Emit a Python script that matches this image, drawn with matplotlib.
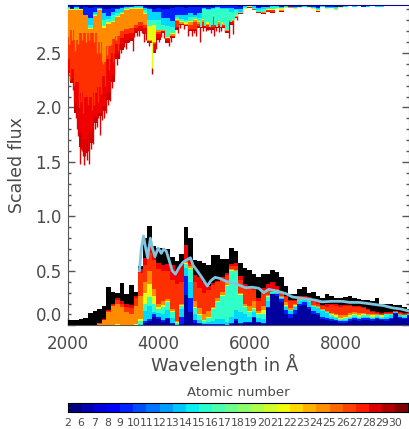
import numpy as np
import matplotlib
matplotlib.use('Agg')
import matplotlib.pyplot as plt
from matplotlib.ticker import MultipleLocator

plt.rcParams['font.family'] = ['DejaVu Sans']

# wavelength grid, 2000 - 9500 in steps of 100
wave = list(range(2000, 9600, 100))

# %% lower spectrum, cumulative tops of the element groups
low_total = [.05, .05, .05, .06, .07, .11, .13, .15, .18, .35,
             .31, .30, .39, .29, .37, .31, .54, .80, .91, .73,
             .71, .71, .70, .63, .59, .65, .90, .80, .60, .59,
             .575, .55, .645, .645, .605, .605, .71, .68, .575, .53,
             .51, .47, .44, .47, .47, .505, .485, .44, .36, .285,
             .29, .33, .355, .30, .31, .27, .255, .285, .27, .255,
             .25, .26, .27, .255, .24, .235, .235, .22, .25, .20,
             .195, .20, .19, .19, .165, .15]
low_navy = [0, 0, 0, 0, 0, 0, 0, 0, 0, 0,
            0, 0, 0, 0, 0, 0, 0, .02, .04, .08,
            .06, .03, .06, .01, 0, .01, .28, .12, .02, .01,
            0, 0, 0, 0, 0, 0, .01, .04, .01, .02,
            .02, .07, .02, .01, .16, .285, .27, .21, .10, .07,
            .10, .18, .19, .15, .10, .09, .055, .05, .04, .035,
            .025, .025, .04, .05, .04, .05, .05, .04, .055, .05,
            .04, .06, .10, .07, .055, .085]
low_blue = [0, 0, 0, 0, 0, 0, 0, 0, 0, 0,
            0, 0, 0, 0, 0, 0, 0, .04, .06, .10,
            .08, .05, .07, .02, 0, .08, .45, .25, .05, .02,
            .01, .01, .01, .01, .01, 0, .02, .06, .02, .03,
            .03, .08, .03, .02, .17, .29, .29, .24, .14, .10,
            .14, .20, .21, .17, .13, .11, .08, .07, .055, .05,
            .04, .04, .06, .07, .06, .07, .07, .06, .07, .06,
            .06, .07, .11, .08, .065, .09]
low_cyan = [0, 0, 0, 0, 0, 0, 0, 0, 0, 0,
            0, 0, 0, 0, 0, 0, .01, .13, .18, .12,
            .11, .10, .14, .07, .01, .15, .53, .40, .10, .05,
            .02, .03, .04, .06, .06, .03, .08, .14, .12, .10,
            .08, .12, .07, .06, .22, .30, .30, .25, .17, .13,
            .17, .22, .23, .21, .17, .16, .13, .11, .08, .07,
            .05, .05, .07, .08, .07, .08, .08, .07, .08, .07,
            .08, .09, .12, .09, .08, .10]
low_aqua = [0, 0, 0, 0, 0, 0, 0, 0, 0, 0,
            0, 0, 0, 0, 0, 0, .04, .20, .26, .20,
            .15, .17, .21, .12, .02, .18, .56, .52, .16, .09,
            .04, .07, .15, .21, .27, .36, .50, .50, .28, .17,
            .12, .15, .10, .10, .26, .31, .30, .26, .18, .14,
            .18, .23, .23, .22, .18, .17, .14, .12, .09, .08,
            .06, .07, .08, .09, .08, .09, .09, .08, .09, .08,
            .10, .10, .12, .09, .09, .10]
low_yellow = [0, 0, 0, 0, 0, 0, 0, 0, 0, 0,
              0, .01, 0, 0, 0, .01, .06, .30, .38, .27,
              .17, .19, .22, .13, .03, .19, .57, .53, .17, .10,
              .05, .08, .16, .22, .28, .37, .51, .50, .29, .18,
              .13, .16, .11, .14, .27, .31, .30, .26, .19, .14,
              .19, .23, .24, .22, .18, .17, .14, .12, .10, .09,
              .07, .08, .09, .10, .09, .10, .09, .09, .09, .09,
              .10, .10, .12, .09, .09, .10]
low_orange = [0, 0, 0, 0, 0, 0, 0, .015, .05, .12,
              .18, .20, .165, .125, .10, .18, .27, .40, .50, .33,
              .20, .22, .24, .15, .04, .20, .58, .54, .22, .16,
              .10, .13, .17, .25, .31, .40, .52, .51, .30, .20,
              .18, .22, .13, .18, .28, .31, .31, .27, .21, .16,
              .20, .24, .24, .23, .19, .18, .15, .13, .11, .10,
              .09, .09, .11, .12, .11, .11, .10, .10, .10, .09,
              .10, .10, .12, .10, .09, .10]
low_orangered = [0, 0, 0, 0, 0, 0, 0, .02, .05, .13,
                 .19, .23, .20, .17, .16, .25, .48, .55, .66, .60,
                 .52, .50, .50, .42, .38, .40, .60, .56, .40, .34,
                 .30, .32, .37, .40, .42, .46, .54, .54, .42, .36,
                 .34, .32, .22, .30, .32, .33, .33, .30, .26, .22,
                 .22, .26, .25, .25, .21, .20, .18, .17, .19, .18,
                 .17, .18, .18, .17, .17, .16, .14, .12, .11, .10,
                 .11, .11, .13, .11, .10, .11]
low_red = [0, 0, 0, 0, 0, 0, 0, .02, .06, .14,
           .20, .25, .22, .20, .19, .27, .52, .62, .72, .66,
           .57, .55, .56, .55, .50, .56, .74, .60, .46, .44,
           .40, .36, .39, .41, .44, .48, .56, .57, .45, .38,
           .36, .34, .25, .34, .38, .40, .36, .31, .27, .23,
           .23, .27, .27, .26, .22, .21, .19, .20, .20, .20,
           .19, .19, .19, .18, .18, .17, .15, .13, .12, .11,
           .12, .12, .13, .12, .11, .11]

# observed spectrum
obs_wave = [3580, 3620, 3670, 3720, 3760, 3820, 3870, 3920, 3990, 4060,
            4110, 4170, 4230, 4300, 4370, 4450, 4540, 4620, 4700, 4760,
            4850, 4950, 5070, 5150, 5240, 5350, 5450, 5580, 5700, 5910,
            6050, 6200, 6310, 6420, 6640, 6800, 6940, 7120, 7300, 7450,
            7590, 7800, 8030, 8200, 8400, 8600, 8770, 8950, 9130, 9320, 9500]
obs_flux = [.50, .70, .82, .70, .62, .80, .70, .63, .71, .66,
            .70, .68, .60, .50, .47, .53, .58, .60, .62, .55,
            .50, .44, .36, .41, .44, .43, .41, .39, .38, .345,
            .35, .34, .30, .33, .31, .29, .26, .25, .24, .23,
            .215, .22, .22, .21, .21, .20, .19, .18, .16, .15, .13]

# %% upper spectrum, lower edges of the same groups hanging from the top
up_navy = [2.93, 2.91, 2.93, 2.91, 2.92, 2.91, 2.92, 2.92, 2.90, 2.90,
           2.91, 2.91, 2.92, 2.935, 2.93, 2.935, 2.935, 2.92, 2.91, 2.90,
           2.91, 2.90, 2.90, 2.91, 2.92, 2.92, 2.91, 2.92, 2.92, 2.92,
           2.92, 2.92, 2.92, 2.93, 2.93, 2.93, 2.93, 2.93, 2.92, 2.935,
           2.935, 2.93, 2.92, 2.92, 2.92, 2.93, 2.93, 2.92, 2.93, 2.935,
           2.935, 2.93, 2.935, 2.93, 2.93, 2.92, 2.935, 2.93, 2.93, 2.925,
           2.93, 2.935, 2.935, 2.935, 2.935, 2.93, 2.935, 2.935, 2.935, 2.93,
           2.935, 2.935, 2.935, 2.935, 2.935, 2.935]
up_blue = [2.92, 2.90, 2.92, 2.90, 2.85, 2.82, 2.88, 2.91, 2.87, 2.84,
           2.88, 2.90, 2.91, 2.92, 2.92, 2.93, 2.93, 2.91, 2.90, 2.88,
           2.88, 2.82, 2.82, 2.79, 2.85, 2.85, 2.85, 2.87, 2.85, 2.87,
           2.91, 2.90, 2.91, 2.92, 2.91, 2.91, 2.91, 2.90, 2.90, 2.93,
           2.935, 2.93, 2.91, 2.92, 2.92, 2.93, 2.93, 2.92, 2.93, 2.925,
           2.925, 2.925, 2.93, 2.925, 2.92, 2.91, 2.93, 2.92, 2.92, 2.92,
           2.925, 2.93, 2.935, 2.93, 2.935, 2.925, 2.93, 2.935, 2.93, 2.93,
           2.935, 2.935, 2.935, 2.935, 2.935, 2.935]
up_cyan = [2.91, 2.90, 2.91, 2.90, 2.87, 2.76, 2.86, 2.90, 2.80, 2.81,
           2.85, 2.87, 2.88, 2.91, 2.92, 2.92, 2.92, 2.89, 2.80, 2.80,
           2.80, 2.76, 2.75, 2.74, 2.83, 2.81, 2.80, 2.83, 2.83, 2.82,
           2.90, 2.89, 2.90, 2.91, 2.90, 2.90, 2.88, 2.89, 2.88, 2.92,
           2.93, 2.91, 2.89, 2.90, 2.91, 2.92, 2.92, 2.91, 2.925, 2.92,
           2.915, 2.92, 2.925, 2.92, 2.91, 2.90, 2.925, 2.91, 2.915, 2.91,
           2.92, 2.925, 2.93, 2.925, 2.93, 2.92, 2.925, 2.93, 2.925, 2.925,
           2.93, 2.93, 2.93, 2.93, 2.93, 2.93]
up_aqua = [2.90, 2.90, 2.90, 2.90, 2.87, 2.73, 2.85, 2.90, 2.745, 2.78,
           2.79, 2.84, 2.87, 2.90, 2.91, 2.91, 2.91, 2.87, 2.745, 2.76,
           2.715, 2.715, 2.65, 2.68, 2.81, 2.79, 2.78, 2.79, 2.81, 2.79,
           2.81, 2.78, 2.85, 2.79, 2.78, 2.715, 2.81, 2.85, 2.87, 2.91,
           2.93, 2.90, 2.88, 2.88, 2.90, 2.90, 2.91, 2.91, 2.92, 2.92,
           2.91, 2.92, 2.925, 2.92, 2.91, 2.89, 2.925, 2.91, 2.91, 2.90,
           2.92, 2.925, 2.93, 2.925, 2.93, 2.92, 2.925, 2.93, 2.925, 2.925,
           2.93, 2.93, 2.93, 2.93, 2.93, 2.93]
up_yellow = [2.89, 2.89, 2.89, 2.89, 2.86, 2.72, 2.84, 2.89, 2.73, 2.77,
             2.78, 2.83, 2.86, 2.89, 2.90, 2.90, 2.90, 2.86, 2.62, 2.60,
             2.71, 2.71, 2.64, 2.67, 2.80, 2.78, 2.77, 2.78, 2.80, 2.78,
             2.80, 2.77, 2.84, 2.78, 2.77, 2.71, 2.80, 2.84, 2.865, 2.905,
             2.925, 2.90, 2.88, 2.875, 2.895, 2.89, 2.905, 2.89, 2.915, 2.92,
             2.905, 2.915, 2.925, 2.915, 2.905, 2.885, 2.925, 2.905, 2.91, 2.895,
             2.915, 2.925, 2.93, 2.925, 2.93, 2.92, 2.925, 2.93, 2.925, 2.925,
             2.93, 2.93, 2.93, 2.93, 2.93, 2.93]
up_orange = [2.65, 2.71, 2.62, 2.68, 2.68, 2.68, 2.68, 2.60, 2.42, 2.56,
             2.63, 2.66, 2.70, 2.72, 2.73, 2.76, 2.78, 2.76, 2.61, 2.59,
             2.69, 2.70, 2.64, 2.66, 2.79, 2.77, 2.76, 2.76, 2.78, 2.77,
             2.78, 2.76, 2.83, 2.77, 2.76, 2.70, 2.79, 2.83, 2.865, 2.905,
             2.92, 2.90, 2.88, 2.87, 2.89, 2.89, 2.90, 2.885, 2.915, 2.915,
             2.905, 2.915, 2.925, 2.915, 2.905, 2.885, 2.925, 2.905, 2.91, 2.895,
             2.915, 2.925, 2.93, 2.925, 2.93, 2.92, 2.925, 2.93, 2.925, 2.925,
             2.93, 2.93, 2.93, 2.93, 2.93, 2.93]
up_orangered = [2.44, 2.35, 2.23, 2.13, 2.10, 2.10, 2.13, 2.19, 2.29, 2.44,
                2.50, 2.58, 2.64, 2.67, 2.68, 2.73, 2.745, 2.73, 2.61, 2.58,
                2.67, 2.70, 2.63, 2.66, 2.74, 2.78, 2.765, 2.72, 2.72, 2.75,
                2.75, 2.735, 2.735, 2.75, 2.75, 2.70, 2.78, 2.83, 2.865, 2.90,
                2.92, 2.89, 2.875, 2.87, 2.885, 2.88, 2.90, 2.885, 2.91, 2.915,
                2.905, 2.915, 2.925, 2.915, 2.905, 2.885, 2.925, 2.905, 2.915, 2.895,
                2.915, 2.925, 2.93, 2.925, 2.93, 2.92, 2.925, 2.93, 2.925, 2.925,
                2.93, 2.93, 2.93, 2.93, 2.93, 2.93]
up_red = [2.33, 2.26, 2.04, 1.77, 1.71, 1.77, 1.92, 1.95, 2.01, 2.13,
          2.29, 2.49, 2.58, 2.62, 2.64, 2.70, 2.715, 2.68, 2.60, 2.53,
          2.64, 2.69, 2.61, 2.65, 2.73, 2.77, 2.755, 2.71, 2.71, 2.74,
          2.74, 2.725, 2.725, 2.74, 2.74, 2.69, 2.77, 2.825, 2.86, 2.90,
          2.91, 2.89, 2.87, 2.865, 2.88, 2.875, 2.90, 2.885, 2.91, 2.91,
          2.90, 2.91, 2.92, 2.91, 2.90, 2.88, 2.92, 2.90, 2.91, 2.89,
          2.91, 2.92, 2.93, 2.92, 2.93, 2.92, 2.92, 2.93, 2.92, 2.92,
          2.93, 2.93, 2.93, 2.93, 2.93, 2.93]
up_darkred = [2.32, 2.22, 1.95, 1.64, 1.58, 1.67, 1.86, 1.92, 1.97, 2.07,
              2.23, 2.44, 2.53, 2.59, 2.61, 2.68, 2.70, 2.67, 2.59, 2.50,
              2.62, 2.68, 2.59, 2.64, 2.715, 2.76, 2.745, 2.70, 2.70, 2.73,
              2.73, 2.715, 2.715, 2.73, 2.73, 2.68, 2.76, 2.82, 2.86, 2.90,
              2.91, 2.89, 2.87, 2.86, 2.88, 2.87, 2.90, 2.88, 2.91, 2.91,
              2.90, 2.91, 2.92, 2.91, 2.90, 2.88, 2.92, 2.90, 2.91, 2.89,
              2.91, 2.92, 2.93, 2.92, 2.93, 2.92, 2.92, 2.93, 2.92, 2.92,
              2.93, 2.93, 2.93, 2.93, 2.93, 2.93]

# narrow columns that break up the band edges of the upper spectrum
spike_wave = [2020, 2060, 2110, 2150, 2190, 2230, 2270, 2300, 2330, 2360, 2390, 2420,
              2470, 2510, 2540, 2560, 2600, 2640, 2680, 2710, 2750, 2800, 2840, 2880,
              2930, 2980, 3030, 3080, 3130, 3180, 3240, 3280, 3340, 3430, 3470, 3530,
              3580, 3630, 3680, 3730, 3780, 3950, 4020, 4060, 4130, 4180, 4230, 4280,
              4340, 4420, 4480, 4560, 4640, 4730, 4780, 4830, 4920, 4970, 5040, 5090,
              5160, 5210, 5260, 5320, 5380, 5460, 5540, 5640, 5720]
spike_flux = [2.30, 2.24, 2.16, 2.05, 1.90, 1.74, 1.48, 1.62, 1.55, 1.47, 1.60, 1.52,
              1.48, 1.62, 1.72, 1.66, 1.80, 1.82, 1.90, 1.75, 1.88, 1.90, 1.95, 2.02,
              2.06, 2.18, 2.30, 2.39, 2.45, 2.50, 2.55, 2.54, 2.60, 2.515, 2.65, 2.66,
              2.66, 2.68, 2.60, 2.62, 2.56, 2.54, 2.60, 2.65, 2.64, 2.60, 2.56, 2.60,
              2.66, 2.68, 2.73, 2.72, 2.66, 2.66, 2.68, 2.66, 2.60, 2.70, 2.70, 2.71,
              2.68, 2.66, 2.70, 2.69, 2.70, 2.69, 2.64, 2.67, 2.80]
red_col_wave = [2210, 2310, 2380, 2450, 2520]
red_col_flux = [1.80, 1.60, 1.55, 1.60, 1.72]
orangered_col_wave = [2050, 2140, 2250, 2290, 2350, 2440, 2530, 2590, 2660, 2740, 2830, 2910, 3010, 3110]
orangered_col_flux = [2.25, 2.20, 2.00, 2.05, 1.95, 2.02, 1.98, 2.02, 2.05, 2.12, 2.20, 2.34, 2.42, 2.52]
orange_col_wave = [2030, 2090, 2170, 2240, 2320, 2410, 2480, 2590, 2650, 2720, 2770, 2860, 2950, 3060]
orange_col_flux = [2.58, 2.62, 2.52, 2.58, 2.62, 2.60, 2.62, 2.60, 2.50, 2.50, 2.40, 2.48, 2.58, 2.62]
aqua_col_wave = [4940, 5030, 5120, 5170, 5240, 5290, 5370, 5430, 5590, 5650]
aqua_col_flux = [2.74, 2.75, 2.74, 2.76, 2.76, 2.74, 2.74, 2.76, 2.78, 2.80]
yellow_line_wave = 3850
yellow_line_flux = [2.60, 2.36]
yellow_line_end = 2.31

# colour bar
atomic_numbers = [2, 6, 7, 8, 9, 10, 11, 12, 13, 14, 15, 16, 17, 18, 19, 20,
                  21, 22, 23, 24, 25, 26, 27, 28, 29, 30]

low_colors = ['#f00000', '#ff3000', '#ff8c00', '#e4ff12', '#30ffc8', '#00d8ff', '#0020ff', '#00009f']

fig = plt.figure(figsize=(4.09, 4.29), dpi=100)
ax = fig.add_axes([67.5 / 409, 1 - 325.3 / 429, 341.5 / 409, 320.3 / 429])

grey = '#555555'
text_col = '#4a4a4a'

# %% lower part
ax.fill_between(wave, 0, low_total, step='mid', color='black', lw=0, zorder=3)
low_tops = [low_red, low_orangered, low_orange, low_yellow, low_aqua, low_cyan, low_blue, low_navy]
for top, col in zip(low_tops, low_colors):
    ax.fill_between(wave, 0, top, step='mid', color=col, lw=0, zorder=3)
ax.plot(obs_wave, obs_flux, color='#7fc5e0', lw=2.0, zorder=4)

# %% upper part
up_edges = [up_darkred, up_red, up_orangered, up_orange, up_yellow, up_aqua, up_cyan, up_blue, up_navy]
up_colors = ['#cc0000', '#f00000', '#ff3000', '#ff8c00', '#e4ff12', '#30ffc8', '#00d8ff', '#0020ff', '#00009f']
ax.vlines(spike_wave, spike_flux, 2.9, color='#e00000', lw=1, zorder=2.9)
for i, (edge, col) in enumerate(zip(up_edges, up_colors)):
    ax.fill_between(wave, edge, 3, step='mid', color=col, lw=0, zorder=3 + i * .1)
ax.vlines(red_col_wave, red_col_flux, 2.9, color='#f00000', lw=1, zorder=3.05)
ax.vlines(orangered_col_wave, orangered_col_flux, 2.9, color='#ff3000', lw=1, zorder=3.15)
ax.vlines(orange_col_wave, orange_col_flux, 2.9, color='#ff8c00', lw=1, zorder=3.25)
ax.vlines(aqua_col_wave, aqua_col_flux, 2.88, color='#30ffc8', lw=1.4, zorder=3.55)
ax.vlines(yellow_line_wave, yellow_line_flux[1], yellow_line_flux[0], color='#e4ff12', lw=1, zorder=3.45)
ax.vlines(yellow_line_wave, yellow_line_end, yellow_line_flux[1], color='#c00000', lw=1, zorder=3.45)

ax.set_xlim(2000, 9500)
ax.set_ylim(0, 2.94)
ax.set_xticks([2000, 4000, 6000, 8000])
ax.xaxis.set_minor_locator(MultipleLocator(500))
ax.set_yticks([0, .5, 1, 1.5, 2, 2.5])
ax.set_yticklabels(['0.0', '0.5', '1.0', '1.5', '2.0', '2.5'])
ax.yaxis.set_minor_locator(MultipleLocator(.1))
ax.yaxis.set_ticks_position('both')
ax.tick_params(which='major', direction='in', length=5, width=1, color=grey,
               labelsize=12, labelcolor=text_col, pad=4)
ax.tick_params(which='minor', direction='in', length=2.5, width=1, color=grey)
ax.tick_params(axis='x', which='major', pad=7)
ax.get_yticklabels()[0].set_verticalalignment('bottom')
for side in ax.spines.values():
    side.set_color(grey)
ax.set_xlabel('Wavelength in Å', fontsize=13, color=text_col, va='center')
ax.xaxis.set_label_coords((225 - 67.5) / 341.5, (325.3 - 364) / 320.3)
ax.set_ylabel('Scaled flux', fontsize=12.5, color=text_col, va='center')
ax.yaxis.set_label_coords((17 - 67.5) / 341.5, .5)

# %% colour bar
cax = fig.add_axes([68 / 409, 1 - 412 / 429, 340 / 409, 9 / 429])
cax.pcolormesh(np.arange(len(atomic_numbers) + 1), [0, 1],
               [np.arange(len(atomic_numbers))], cmap=plt.get_cmap('jet', len(atomic_numbers)))
cax.set_yticks([])
cax.set_xticks(np.arange(len(atomic_numbers)))
cax.set_xticklabels(atomic_numbers)
cax.tick_params(axis='x', length=0, labelsize=7.8, labelcolor=text_col, pad=4.2)
cax.set_title('Atomic number', fontsize=9.5, color=text_col, pad=5)

plt.savefig('out.png', dpi=100)
